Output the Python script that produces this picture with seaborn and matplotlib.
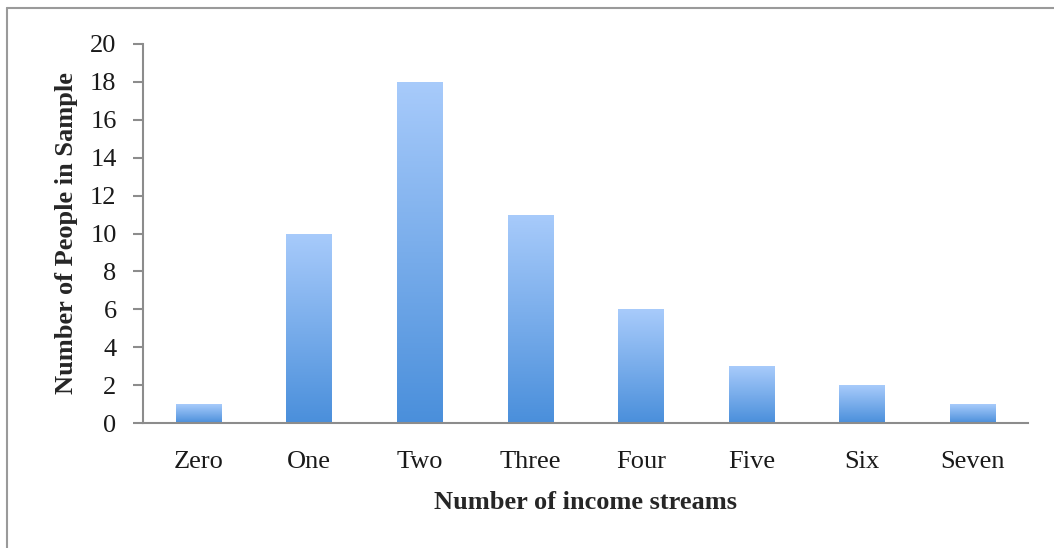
import numpy as np
import pandas as pd
import matplotlib
matplotlib.use("Agg")
import matplotlib.pyplot as plt
import seaborn as sns
from matplotlib.colors import LinearSegmentedColormap
from matplotlib.lines import Line2D

# data
streams = ["Zero", "One", "Two", "Three", "Four", "Five", "Six", "Seven"]
people = [1, 10, 18, 11, 6, 3, 2, 1]

df = pd.DataFrame({"streams": streams, "people": people})

sns.set_style("white")
plt.rcParams["font.family"] = ["Liberation Serif", "DejaVu Serif"]

fig = plt.figure(figsize=(10.54, 5.48), dpi=100)
ax = fig.add_axes([143 / 1054, 1 - 423 / 548, (1028 - 143) / 1054, (423 - 44) / 548])

sns.barplot(data=df, x="streams", y="people", color="#6aa3e6", width=0.41, ax=ax)

# vertical gradient inside each bar (light top, darker bottom)
grad_cmap = LinearSegmentedColormap.from_list("bar", ["#4a8fdb", "#a8cbfb"])
grad = np.linspace(0, 1, 256).reshape(-1, 1)
for p in ax.patches:
    x0, y0 = p.get_x(), p.get_y()
    w, h = p.get_width(), p.get_height()
    p.set_facecolor("none")
    p.set_edgecolor("none")
    img = ax.imshow(grad, cmap=grad_cmap, origin="lower", aspect="auto",
                    extent=[x0, x0 + w, y0, y0 + h], zorder=2)
    img.set_clip_path(p)

ax.set_xlim(-0.5, len(streams) - 0.5)
ax.set_ylim(0, 20)
ax.set_yticks(range(0, 21, 2))

axis_grey = "#8c8c8c"
for side in ["top", "right"]:
    ax.spines[side].set_visible(False)
for side in ["left", "bottom"]:
    ax.spines[side].set_color(axis_grey)
    ax.spines[side].set_linewidth(1.5)

ax.set_xticks(np.arange(-0.5, len(streams), 1.0), minor=True)
ax.tick_params(axis="x", which="major", length=0, pad=20, labelsize=19, labelcolor="#1a1a1a")
ax.tick_params(axis="x", which="minor", length=7, width=1.5, color=axis_grey, direction="out")
ax.tick_params(axis="y", which="major", length=7, width=1.5, color=axis_grey,
               direction="out", pad=12, labelsize=19, labelcolor="#1a1a1a", left=True)

ax.set_xlabel("Number of income streams", fontsize=19, fontweight="bold", labelpad=13)
ax.set_ylabel("Number of People in Sample", fontsize=19, fontweight="bold", labelpad=9)

# outer frame of the chart
fig.add_artist(Line2D([7 / 1054, 7 / 1054], [0, 1 - 8 / 548], transform=fig.transFigure,
                      color="#9a9a9a", linewidth=1.5))
fig.add_artist(Line2D([7 / 1054, 1], [1 - 8 / 548, 1 - 8 / 548], transform=fig.transFigure,
                      color="#9a9a9a", linewidth=1.5))

fig.savefig("out.png", dpi=100)
